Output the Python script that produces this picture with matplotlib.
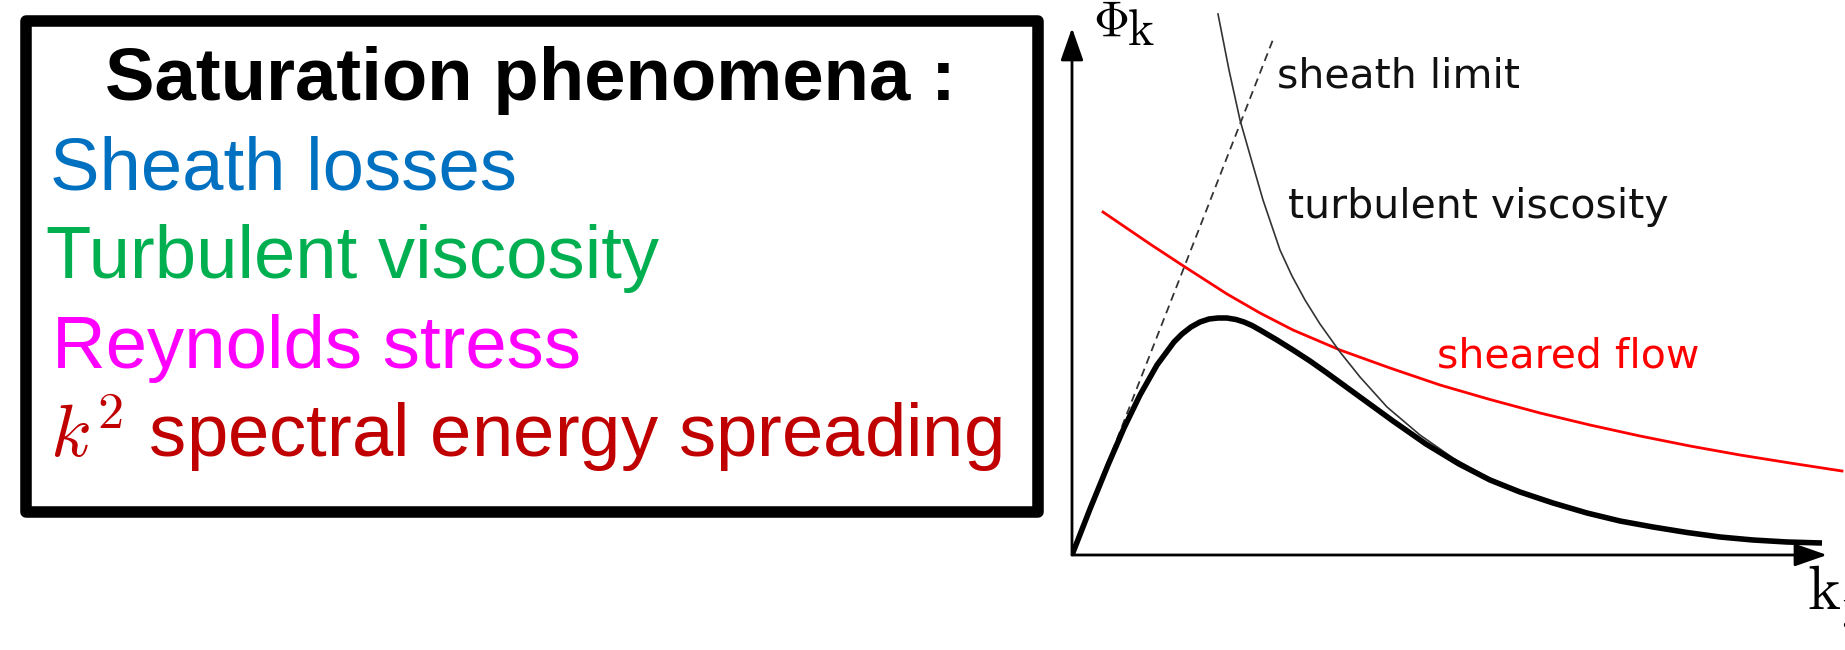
import matplotlib
matplotlib.use("Agg")
import matplotlib.pyplot as plt
from matplotlib.patches import Rectangle

plt.rcParams["mathtext.fontset"] = "cm"

# left panel text
title = "Saturation phenomena :"
phenomena = ["Sheath losses", "Turbulent viscosity", "Reynolds stress",
             "$k^2$ spectral energy spreading"]
phenomena_colors = ["#0070C0", "#00B050", "#FF00FF", "#C00000"]

# fluctuation spectrum (thick black)
k_spec = [0, 0.18, 0.36, 0.52, 0.68, 0.85, 1.02, 1.10, 1.19, 1.28, 1.37, 1.46, 1.55,
          1.64, 1.72, 1.80, 1.88, 2.05, 2.21, 2.38, 2.55, 2.88, 3.21, 3.54, 3.87,
          4.18, 4.48, 4.81, 5.15, 5.48, 5.81, 6.15, 6.48, 6.81, 7.15, 7.50]
phi_spec = [0, 0.46, 0.90, 1.27, 1.60, 1.90, 2.13, 2.21, 2.28, 2.33, 2.36, 2.37, 2.37,
            2.355, 2.33, 2.295, 2.25, 2.15, 2.05, 1.94, 1.82, 1.58, 1.34, 1.11, 0.91,
            0.75, 0.63, 0.52, 0.42, 0.34, 0.28, 0.225, 0.18, 0.15, 0.13, 0.12]

# turbulent viscosity limit (thin)
k_visc = [1.46, 1.57, 1.68, 1.80, 1.91, 2.08, 2.20, 2.33, 2.48, 2.68, 2.88, 3.15,
          3.48, 3.81, 4.15, 4.48]
phi_visc = [5.41, 4.85, 4.35, 3.93, 3.55, 3.05, 2.79, 2.55, 2.31, 2.03, 1.78, 1.48,
            1.20, 0.97, 0.78, 0.64]

# sheared flow limit (red)
k_shear = [0.31, 0.78, 1.13, 1.55, 1.88, 2.21, 2.68, 3.18, 3.68, 4.18, 4.68, 5.18,
           5.68, 6.18, 6.68, 7.18, 7.70]
phi_shear = [3.43, 3.11, 2.88, 2.61, 2.42, 2.25, 2.05, 1.87, 1.70, 1.555, 1.42, 1.30,
             1.19, 1.09, 1.00, 0.92, 0.84]

# sheath limit (dashed)
k_sheath = [0.40, 2.02]
phi_sheath = [1.03, 5.18]

fig = plt.figure(figsize=(18.45, 6.5), dpi=100)

# ---- text box on the left (pixel coordinates) ----
axb = fig.add_axes([0, 0, 1, 1])
axb.set_xlim(0, 1845)
axb.set_ylim(650, 0)
axb.axis("off")
axb.add_patch(Rectangle((26, 21), 1012, 491, fill=False, lw=8.3, ec="black",
                        joinstyle="round"))
axb.text(530, 100, title, ha="center", va="baseline", fontsize=53.6,
         fontweight="bold", family="Liberation Sans")
line_x = [50, 46, 52, 50]
line_y = [190, 278, 368, 457]
for txt, col, x, y in zip(phenomena, phenomena_colors, line_x, line_y):
    axb.text(x, y, txt, ha="left", va="baseline", fontsize=53.6, color=col,
             family="Liberation Sans")

# ---- sketch of the spectrum ----
ax = fig.add_axes([1072 / 1845, 95 / 650, 773 / 1845, 555 / 650])
ax.set_xlim(0, 7.73)
ax.set_ylim(0, 5.55)
ax.axis("off")

arrow = dict(arrowstyle="-|>,head_length=1.0,head_width=0.35", mutation_scale=20,
             lw=2.0, color="black", shrinkA=0, shrinkB=0)
ax.annotate("", xy=(0, 5.27), xytext=(0, 0), arrowprops=arrow, annotation_clip=False)
ax.annotate("", xy=(7.55, 0), xytext=(0, 0), arrowprops=arrow, annotation_clip=False)

ax.plot(k_shear, phi_shear, color="#FF0000", lw=2.0, solid_joinstyle="round")
ax.plot(k_sheath, phi_sheath, color="#333333", lw=1.3, linestyle=(0, (4.5, 3)))
ax.plot(k_visc, phi_visc, color="#333333", lw=1.2, solid_joinstyle="round")
ax.plot(k_spec, phi_spec, color="black", lw=4.0, solid_capstyle="butt",
        solid_joinstyle="round")

ax.text(2.05, 4.68, "sheath limit", fontsize=29.5, va="baseline", color="#111111",
        family="DejaVu Sans")
ax.text(2.16, 3.37, "turbulent viscosity", fontsize=29.5, va="baseline",
        color="#111111", family="DejaVu Sans")
ax.text(3.65, 1.87, "sheared flow", fontsize=29.5, va="baseline", color="#FF0000",
        family="DejaVu Sans")

ax.text(0.21, 5.19, r"$\Phi$", fontsize=36, va="baseline")
ax.text(0.55, 5.10, r"$\mathrm{k}$", fontsize=36, va="baseline")
ax.text(7.35, -0.55, r"$\mathrm{k_y}$", fontsize=45, va="baseline", clip_on=False)

fig.savefig("out.png", dpi=100)
